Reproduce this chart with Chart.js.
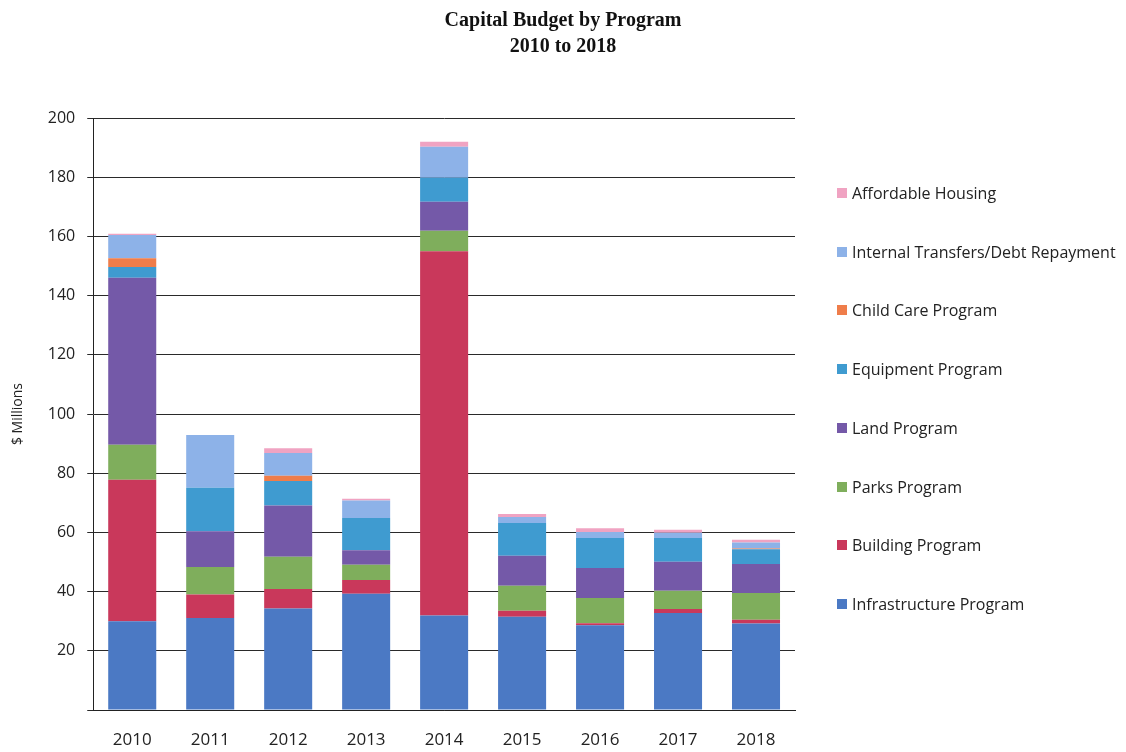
<!DOCTYPE html>
<html>
<head>
<meta charset="utf-8">
<script src="https://cdn.jsdelivr.net/npm/chart.js@4/dist/chart.umd.min.js"></script>
<style>
  html, body { margin: 0; padding: 0; background: #fff; }
  #wrap { width: 1126px; height: 752px; position: relative; overflow: hidden; }
  #c { position: absolute; left: 0; top: 0; }
  #title { position: absolute; left: 0; top: 6px; width: 1126px; text-align: center;
           font-family: "Liberation Serif", "DejaVu Serif", serif; font-weight: bold; font-size: 20px;
           line-height: 26px; color: #111; }
  #legend { position: absolute; left: 837px; top: 0; font-family: "Open Sans", "DejaVu Sans", sans-serif; font-size: 16px; color: #222; }
  #legend .item { position: absolute; left: 0; white-space: nowrap; height: 20px; line-height: 20px; }
  #legend .box { position: absolute; left: 0; top: 5px; width: 10px; height: 10px; }
  #legend .txt { position: absolute; left: 15px; top: 0; }
</style>
</head>
<body>
<div id="wrap">
  <canvas id="c" width="1126" height="752"></canvas>
  <div id="title">Capital Budget by Program<br>2010 to 2018</div>
  <div id="legend"></div>
</div>
<script>
// Years on the category axis
const years = ['2010', '2011', '2012', '2013', '2014', '2015', '2016', '2017', '2018'];

// Program spending, $ millions, stacked from the bottom up
const infrastructure = [30.0, 31.1, 34.3, 39.3, 31.9, 31.5, 28.6, 32.8, 29.2];
const building       = [47.8, 7.9, 6.6, 4.6, 123.1, 2.0, 0.7, 1.3, 1.3];
const parks          = [11.8, 9.3, 10.9, 5.2, 6.9, 8.5, 8.5, 6.2, 9.0];
const land           = [56.4, 12.1, 17.3, 4.9, 9.8, 10.1, 10.2, 9.8, 9.8];
const equipment      = [3.7, 14.7, 8.3, 10.9, 8.1, 11.1, 10.1, 8.0, 5.0];
const childCare      = [2.9, 0.0, 1.7, 0.0, 0.0, 0.0, 0.0, 0.0, 0.3];
const internalTransfers = [7.9, 17.8, 7.7, 5.9, 10.5, 2.0, 2.0, 1.8, 2.0];
const affordableHousing = [0.4, 0.0, 1.6, 0.6, 1.7, 1.0, 1.3, 1.0, 0.9];

// Value-axis ticks
const yTicks = [0, 20, 40, 60, 80, 100, 120, 140, 160, 180, 200];

const seriesNames = [
  'Infrastructure Program', 'Building Program', 'Parks Program', 'Land Program',
  'Equipment Program', 'Child Care Program', 'Internal Transfers/Debt Repayment', 'Affordable Housing'
];
const seriesValues = [infrastructure, building, parks, land, equipment, childCare, internalTransfers, affordableHousing];
const seriesColors = ['#4b79c4', '#c9385b', '#7fae5c', '#7459a8', '#3f9bd0', '#ef7d4a', '#8db2e8', '#f0a3c2'];

const datasets = seriesNames.map((name, i) => ({
  label: name,
  data: seriesValues[i],
  backgroundColor: seriesColors[i],
  borderWidth: 0,
  categoryPercentage: 0.8,
  barPercentage: 0.77
}));

const FONT = '"Open Sans", "DejaVu Sans", sans-serif';

const chart = new Chart(document.getElementById('c'), {
  type: 'bar',
  data: { labels: years, datasets },
  options: {
    responsive: false,
    animation: false,
    layout: { padding: { left: 10, right: 331, top: 118, bottom: 0 } },
    plugins: {
      tooltip: { enabled: false },
      legend: { display: false },
      title: { display: false }
    },
    scales: {
      x: {
        stacked: true,
        grid: { display: false, tickLength: 6 },
        border: { color: '#222', width: 1 },
        ticks: { font: { family: FONT, size: 17 }, color: '#222', padding: 14 },
        afterFit: (scale) => { scale.height = 42; }
      },
      y: {
        stacked: true,
        min: 0,
        max: 200,
        afterBuildTicks: (axis) => { axis.ticks = yTicks.map(v => ({ value: v })); },
        grid: { color: '#2a2a2a', lineWidth: 1, tickLength: 6 },
        border: { color: '#222', width: 1 },
        ticks: {
          font: { family: FONT, size: 16 },
          color: '#222',
          padding: 12,
          callback: (v) => (v === 0 ? '' : v)
        },
        title: {
          display: true,
          text: '$ Millions',
          font: { family: FONT, size: 14 },
          color: '#222',
          padding: { top: 0, bottom: 9 }
        }
      }
    }
  }
});

// Legend on the right, top entry is the top of the stack
const legendEl = document.getElementById('legend');
const order = seriesNames.map((_, i) => i).reverse();
order.forEach((idx, row) => {
  const item = document.createElement('div');
  item.className = 'item';
  item.style.top = (183 + row * 58.7) + 'px';
  const box = document.createElement('span');
  box.className = 'box';
  box.style.background = seriesColors[idx];
  const txt = document.createElement('span');
  txt.className = 'txt';
  txt.textContent = seriesNames[idx];
  item.appendChild(box);
  item.appendChild(txt);
  legendEl.appendChild(item);
});
</script>
</body>
</html>
